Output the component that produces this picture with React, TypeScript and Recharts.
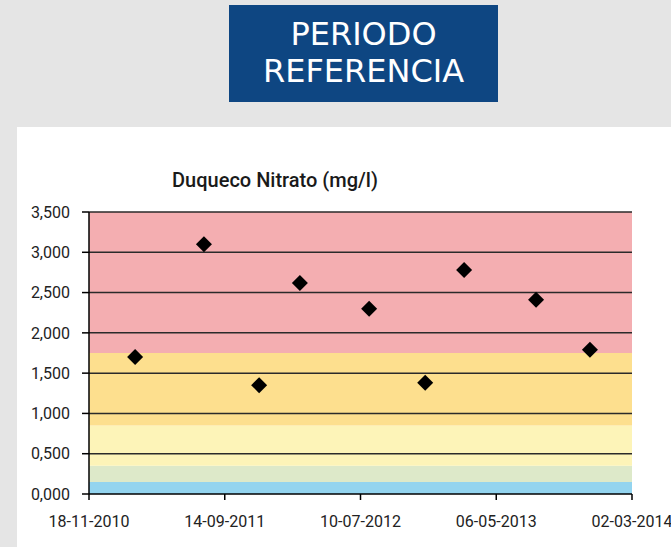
import React from "react";
import {
  ScatterChart,
  Scatter,
  XAxis,
  YAxis,
  ReferenceArea,
  ReferenceLine,
} from "recharts";

// muestras de nitrato (mg/l) en Duqueco
const SAMPLE_DATES = [
  "2011-02-28",
  "2011-07-30",
  "2011-11-29",
  "2012-02-27",
  "2012-07-29",
  "2012-11-30",
  "2013-02-24",
  "2013-08-02",
  "2013-11-29",
];
const NITRATO = [1.7, 3.1, 1.35, 2.62, 2.3, 1.38, 2.78, 2.41, 1.79];

const X_TICK_DATES = ["2010-11-18", "2011-09-14", "2012-07-10", "2013-05-06", "2014-03-02"];
const Y_TICKS = [0, 0.5, 1, 1.5, 2, 2.5, 3, 3.5];

// limites de las franjas de calidad
const BAND_LIMITS = [0, 0.15, 0.35, 0.85, 1.75, 3.5];
const BAND_COLORS = ["#93d4ef", "#dde9c9", "#fdf4b8", "#fddf8e", "#f4aeb1"];

const toDay = (s: string) => Date.parse(s) / 86400000;

const data = SAMPLE_DATES.map((d, i) => ({ day: toDay(d), value: NITRATO[i] }));
const xTicks = X_TICK_DATES.map(toDay);

const fmtDate = (day: number) => {
  const d = new Date(Math.round(day) * 86400000);
  const dd = String(d.getUTCDate()).padStart(2, "0");
  const mm = String(d.getUTCMonth() + 1).padStart(2, "0");
  return `${dd}-${mm}-${d.getUTCFullYear()}`;
};

const fmtValue = (v: number) => v.toFixed(3).replace(".", ",");

const Diamond = (props: any) => {
  const { cx, cy } = props;
  const r = 8;
  return (
    <polygon
      points={`${cx},${cy - r} ${cx + r},${cy} ${cx},${cy + r} ${cx - r},${cy}`}
      fill="#000"
    />
  );
};

const tickStyle = { fontSize: 16, fontFamily: "Roboto", fill: "#222" };

export default function App() {
  return (
    <div
      style={{
        position: "absolute",
        left: 0,
        top: 0,
        width: 671,
        height: 547,
        background: "#e5e5e5",
        overflow: "hidden",
        fontFamily: "Roboto",
      }}
    >
      <div
        style={{
          position: "absolute",
          left: 229,
          top: 5,
          width: 269,
          height: 97,
          background: "#0e4682",
          color: "#fff",
          fontFamily: "DejaVu Sans",
          fontSize: 32,
          lineHeight: "37px",
          textAlign: "center",
          paddingTop: 11,
          boxSizing: "border-box",
        }}
      >
        PERIODO
        <br />
        REFERENCIA
      </div>
      <div
        style={{
          position: "absolute",
          left: 17,
          top: 127,
          width: 654,
          height: 420,
          background: "#fff",
        }}
      >
        <div
          style={{
            position: "absolute",
            left: 0,
            width: 516,
            top: 41,
            textAlign: "center",
            fontSize: 20,
            fontWeight: 500,
            color: "#1a1a1a",
          }}
        >
          Duqueco Nitrato (mg/l)
        </div>
        <ScatterChart
          width={654}
          height={420}
          margin={{ top: 85, right: 39, bottom: 0, left: 0 }}
        >
          <XAxis
            type="number"
            dataKey="day"
            domain={[xTicks[0], xTicks[xTicks.length - 1]]}
            ticks={xTicks}
            tickFormatter={fmtDate}
            height={53}
            tickSize={6}
            tickMargin={16}
            tick={tickStyle}
            axisLine={{ stroke: "#000", strokeWidth: 1.5 }}
            tickLine={{ stroke: "#000", strokeWidth: 1.5 }}
            interval={0}
          />
          <YAxis
            type="number"
            dataKey="value"
            domain={[0, 3.5]}
            ticks={Y_TICKS}
            tickFormatter={fmtValue}
            width={72}
            tickSize={7}
            tickMargin={12}
            tick={tickStyle}
            axisLine={{ stroke: "#000", strokeWidth: 1.5 }}
            tickLine={{ stroke: "#000", strokeWidth: 1.5 }}
            interval={0}
          />
          {BAND_COLORS.map((c, i) => (
            <ReferenceArea
              key={c}
              y1={BAND_LIMITS[i]}
              y2={BAND_LIMITS[i + 1]}
              fill={c}
              fillOpacity={1}
              stroke="none"
            />
          ))}
          {Y_TICKS.filter((t) => t > 0).map((t) => (
            <ReferenceLine key={t} y={t} stroke="#2a2a2a" strokeWidth={1.5} />
          ))}
          <Scatter data={data} shape={Diamond} isAnimationActive={false} />
        </ScatterChart>
      </div>
    </div>
  );
}
